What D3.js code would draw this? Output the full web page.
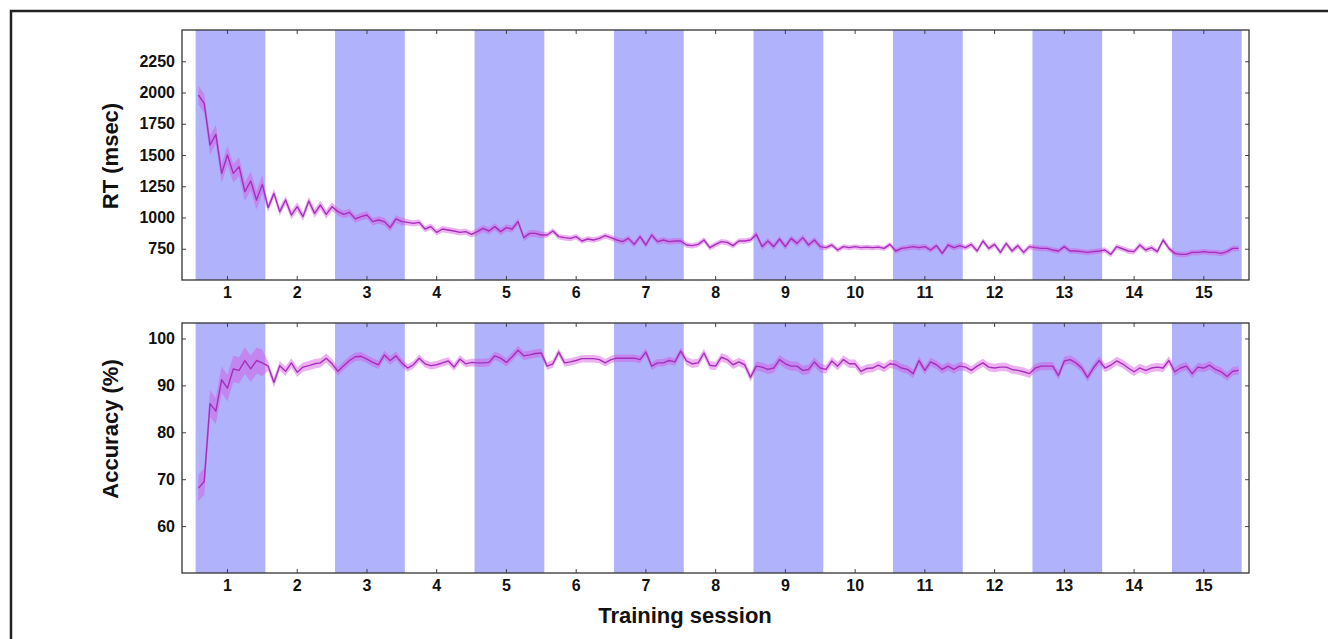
<!DOCTYPE html>
<html>
<head>
<meta charset="utf-8">
<script src="https://cdn.jsdelivr.net/npm/d3@7"></script>
<style>
  body { margin: 0; background: #fff; }
  svg { display: block; font-family: "Liberation Sans", Arial, sans-serif; }
  .axis text { font-size: 16px; font-weight: bold; fill: #111; }
  .axis line { stroke: #444; }
</style>
</head>
<body>
<div id="chart"></div>
<script>
// sessions on the x axis
const sessions = [1, 2, 3, 4, 5, 6, 7, 8, 9, 10, 11, 12, 13, 14, 15];
const shadedSessions = [1, 3, 5, 7, 9, 11, 13, 15];
const rtTicks = [750, 1000, 1250, 1500, 1750, 2000, 2250];
const accTicks = [60, 70, 80, 90, 100];

// mean RT (msec), 12 blocks per session
const rtMean = [
  [1980, 1913, 1580, 1665, 1353, 1500, 1353, 1407, 1207, 1292, 1140, 1265],
  [1079, 1193, 1047, 1140, 1020, 1087, 1007, 1132, 1033, 1100, 1025, 1087],
  [1047, 1025, 1041, 989, 1007, 1020, 967, 980, 967, 919, 989, 967],
  [961, 953, 961, 908, 927, 881, 908, 900, 892, 881, 887, 865],
  [887, 913, 892, 927, 887, 919, 908, 967, 839, 873, 873, 860],
  [860, 892, 847, 839, 833, 847, 812, 828, 820, 833, 855, 839],
  [820, 807, 833, 785, 847, 780, 860, 807, 820, 807, 812, 812],
  [780, 775, 785, 820, 759, 785, 807, 801, 775, 812, 812, 820],
  [865, 767, 812, 767, 828, 767, 833, 793, 839, 780, 820, 767],
  [759, 780, 740, 767, 759, 767, 759, 763, 759, 763, 753, 785],
  [732, 753, 759, 767, 759, 767, 740, 775, 713, 780, 759, 775],
  [759, 785, 732, 812, 753, 785, 721, 793, 732, 775, 721, 767],
  [759, 753, 753, 740, 732, 767, 732, 732, 727, 721, 727, 732],
  [740, 705, 767, 750, 732, 727, 780, 740, 759, 727, 820, 753],
  [713, 705, 705, 721, 721, 727, 721, 721, 713, 727, 753, 753]
];
// standard error of RT per session
const rtErr = [75, 35, 30, 25, 28, 22, 24, 22, 25, 20, 22, 22, 22, 22, 22];

// mean accuracy (%), 12 blocks per session
const accMean = [
  [68.1, 69.5, 86.1, 84.5, 91.2, 89.4, 93.5, 93.2, 95.3, 93.5, 95.3, 94.8],
  [94.1, 90.6, 94.2, 93.0, 94.8, 92.8, 93.9, 94.2, 94.6, 94.8, 95.8, 94.6],
  [93.0, 94.2, 95.3, 96.1, 96.2, 95.6, 94.9, 94.4, 96.5, 95.3, 96.3, 94.8],
  [93.7, 94.4, 95.8, 94.6, 94.2, 94.4, 94.8, 95.2, 93.9, 95.6, 94.6, 94.9],
  [94.8, 94.8, 94.9, 96.3, 95.8, 94.9, 96.1, 97.5, 96.3, 96.5, 96.8, 96.9],
  [94.1, 94.6, 97.1, 94.8, 95.0, 95.3, 95.7, 95.7, 95.7, 95.5, 94.8, 95.5],
  [95.8, 95.8, 95.8, 95.8, 95.5, 97.1, 94.1, 94.8, 94.8, 95.3, 95.0, 97.3],
  [95.2, 94.6, 94.8, 96.9, 94.3, 94.1, 96.0, 95.5, 94.4, 95.0, 94.4, 91.7],
  [94.1, 93.9, 93.4, 93.7, 95.5, 94.6, 94.1, 94.1, 93.2, 93.4, 95.0, 93.7],
  [93.4, 95.2, 94.1, 95.5, 94.6, 94.6, 93.0, 93.6, 93.7, 94.3, 93.7, 94.6],
  [94.4, 93.7, 93.4, 92.5, 95.3, 93.2, 95.0, 94.4, 93.4, 94.1, 93.4, 94.1],
  [93.9, 93.2, 94.1, 94.8, 93.9, 93.7, 93.9, 93.9, 93.4, 93.2, 92.9, 92.5],
  [93.7, 94.1, 94.1, 94.1, 92.1, 95.2, 95.5, 94.8, 93.7, 91.7, 93.7, 95.3],
  [93.7, 94.3, 95.2, 94.6, 93.7, 92.9, 93.7, 93.2, 93.7, 93.9, 93.7, 95.3],
  [92.9, 93.7, 94.1, 92.5, 93.9, 93.7, 94.3, 93.4, 92.9, 91.9, 93.0, 93.2]
];
// standard error of accuracy per session
const accErr = [2.8, 1.0, 0.9, 0.8, 0.9, 0.8, 0.8, 0.9, 1.0, 0.9, 0.9, 0.9, 0.9, 0.9, 0.9];

const W = 1328, H = 639;
const bandColor = '#b0b2fb';
const lineColor = '#a52fbb';
const errColor = 'rgba(215, 80, 225, 0.45)';

const svg = d3.select('#chart').append('svg')
    .attr('width', W)
    .attr('height', H);

svg.append('rect').attr('width', W).attr('height', H).attr('fill', '#fff');

// outer frame of the figure
svg.append('rect')
    .attr('x', 11).attr('y', 11)
    .attr('width', W + 50).attr('height', H + 50)
    .attr('fill', 'none')
    .attr('stroke', '#222')
    .attr('stroke-width', 2.5);

const xScale = d3.scaleLinear().domain([0.355, 15.655]).range([182, 1249]);

// flatten one session x block table into points
const toPoints = (means, errs) => {
    let pts = [];
    sessions.forEach((s, i) => {
        means[i].forEach((v, k) => {
            pts.push({x: s - 0.41 + k / 12, y: v, e: errs[i]});
        });
    });
    return pts;
};

const drawPanel = (opts) => {
    let yScale = d3.scaleLinear().domain(opts.domain).range([opts.bottom, opts.top]);
    let g = svg.append('g');

    g.selectAll('rect.band')
        .data(shadedSessions)
        .enter().append('rect')
        .attr('class', 'band')
        .attr('x', (d) => xScale(d - 0.45))
        .attr('width', (d) => xScale(d + 0.55) - xScale(d - 0.45))
        .attr('y', opts.top)
        .attr('height', opts.bottom - opts.top)
        .attr('fill', bandColor);

    let pts = toPoints(opts.means, opts.errs);

    let area = d3.area()
        .x((d) => xScale(d.x))
        .y0((d) => yScale(d.y - d.e))
        .y1((d) => yScale(d.y + d.e));
    g.append('path')
        .datum(pts)
        .attr('d', area)
        .attr('fill', errColor);

    let line = d3.line()
        .x((d) => xScale(d.x))
        .y((d) => yScale(d.y));
    g.append('path')
        .datum(pts)
        .attr('d', line)
        .attr('fill', 'none')
        .attr('stroke', lineColor)
        .attr('stroke-width', 1.4)
        .attr('stroke-linejoin', 'round');

    let xAxis = d3.axisBottom(xScale).tickValues(sessions).tickSizeInner(-4).tickSizeOuter(0).tickPadding(7);
    let xAxisTop = d3.axisTop(xScale).tickValues(sessions).tickSizeInner(-4).tickSizeOuter(0).tickFormat('');
    let yAxis = d3.axisLeft(yScale).tickValues(opts.ticks).tickSizeInner(-4).tickSizeOuter(0)
        .tickPadding(7).tickFormat(d3.format('d'));
    let yAxisRight = d3.axisRight(yScale).tickValues(opts.ticks).tickSizeInner(-4).tickSizeOuter(0).tickFormat('');

    g.append('g').attr('class', 'axis').attr('transform', 'translate(0,' + opts.bottom + ')').call(xAxis);
    g.append('g').attr('class', 'axis').attr('transform', 'translate(0,' + opts.top + ')').call(xAxisTop);
    g.append('g').attr('class', 'axis').attr('transform', 'translate(182,0)').call(yAxis);
    g.append('g').attr('class', 'axis').attr('transform', 'translate(1249,0)').call(yAxisRight);
    g.selectAll('.axis .domain').remove();

    g.append('rect')
        .attr('x', 182).attr('y', opts.top)
        .attr('width', 1249 - 182).attr('height', opts.bottom - opts.top)
        .attr('fill', 'none')
        .attr('stroke', '#333')
        .attr('stroke-width', 1.3);

    g.append('text')
        .attr('transform', 'translate(118,' + opts.titleY + ') rotate(-90)')
        .attr('text-anchor', 'middle')
        .attr('font-size', 22)
        .attr('font-weight', 'bold')
        .attr('fill', '#111')
        .text(opts.title);
};

drawPanel({top: 30, bottom: 280, domain: [500, 2500], ticks: rtTicks,
    means: rtMean, errs: rtErr, title: 'RT (msec)', titleY: 156});
drawPanel({top: 323, bottom: 573, domain: [50, 103.3], ticks: accTicks,
    means: accMean, errs: accErr, title: 'Accuracy (%)', titleY: 429});

svg.append('text')
    .attr('x', 685).attr('y', 623)
    .attr('text-anchor', 'middle')
    .attr('font-size', 22)
    .attr('font-weight', 'bold')
    .attr('fill', '#111')
    .text('Training session');
</script>
</body>
</html>
